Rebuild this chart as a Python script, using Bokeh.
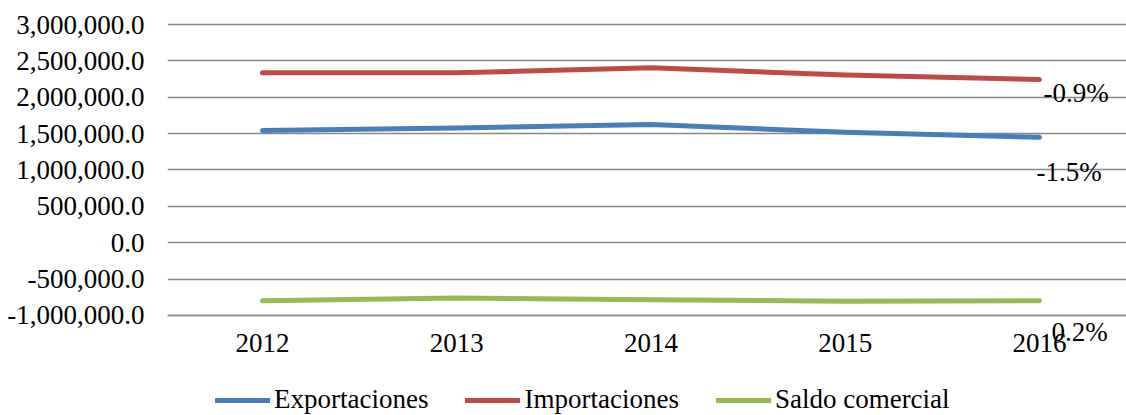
from bokeh.plotting import figure
from bokeh.models import (Range1d, FixedTicker, NumeralTickFormatter, Legend,
                          LegendItem, Label)
from bokeh.embed import file_html
from bokeh.resources import INLINE

years = [2012, 2013, 2014, 2015, 2016]
exportaciones = [1541000, 1578000, 1624000, 1518000, 1449000]
importaciones = [2335000, 2335000, 2404000, 2307000, 2243000]
saldo = [-798000, -761000, -784000, -805000, -798000]
series_names = ["Exportaciones", "Importaciones", "Saldo comercial"]
growth_labels = ["-1.5%", "-0.9%", "0.2%"]
y_ticks = [-1000000, -500000, 0, 500000, 1000000, 1500000, 2000000, 2500000, 3000000]

colors = ["#4A7EBB", "#BE4B48", "#98B954"]
FONT = "Liberation Serif"
FS = "27px"

p = figure(width=1126, height=415, output_backend="svg", toolbar_location=None,
           x_range=Range1d(2011.5109, 2016.4478),
           y_range=Range1d(-2375980, 3137600),
           min_border_left=167, min_border_right=0, min_border_top=14,
           min_border_bottom=0)
p.outline_line_color = None
p.background_fill_color = "white"

# axes
p.yaxis.ticker = FixedTicker(ticks=y_ticks)
p.yaxis.formatter = NumeralTickFormatter(format="0,0.0")
p.yaxis.axis_line_color = None
p.yaxis.major_tick_line_color = None
p.yaxis.minor_tick_line_color = None
p.yaxis.major_tick_out = 0
p.yaxis.major_tick_in = 0
p.yaxis.major_label_standoff = 23
p.yaxis.major_label_text_font = FONT
p.yaxis.major_label_text_font_size = FS
p.yaxis.major_label_text_color = "black"

p.xaxis.fixed_location = y_ticks[0]
p.xaxis.ticker = FixedTicker(ticks=years)
p.xaxis.axis_line_color = "#888888"
p.xaxis.axis_line_width = 1.5
p.xaxis.major_tick_line_color = None
p.xaxis.minor_tick_line_color = None
p.xaxis.major_tick_out = 0
p.xaxis.major_tick_in = 0
p.xaxis.major_label_standoff = 19
p.xaxis.major_label_text_font = FONT
p.xaxis.major_label_text_font_size = FS
p.xaxis.major_label_text_color = "black"

p.xgrid.grid_line_color = None
p.ygrid.ticker = FixedTicker(ticks=y_ticks)
p.ygrid.grid_line_color = "#888888"
p.ygrid.grid_line_width = 1.5

data = [exportaciones, importaciones, saldo]
renderers = []
for vals, c in zip(data, colors):
    r = p.line(years, vals, line_color=c, line_width=5, line_cap="round",
               line_join="round")
    renderers.append(r)

legend = Legend(items=[LegendItem(label=n, renderers=[r])
                       for n, r in zip(series_names, renderers)],
                orientation="horizontal", location=(48, 0),
                glyph_width=55, glyph_height=20, label_standoff=4, spacing=37,
                padding=0, margin=0, border_line_color=None,
                background_fill_alpha=0,
                label_text_font=FONT, label_text_font_size=FS,
                label_text_color="black")
p.add_layout(legend, "center")

offsets = [(-3, -35), (4, -13), (12, -31)]
for vals, txt, (dx, dy) in zip(data, growth_labels, offsets):
    p.add_layout(Label(x=years[-1], y=vals[-1], text=txt, x_offset=dx, y_offset=dy,
                       text_font=FONT, text_font_size=FS, text_color="black",
                       text_baseline="middle", text_align="left"))

open("out.html", "w").write(file_html(p, INLINE))
